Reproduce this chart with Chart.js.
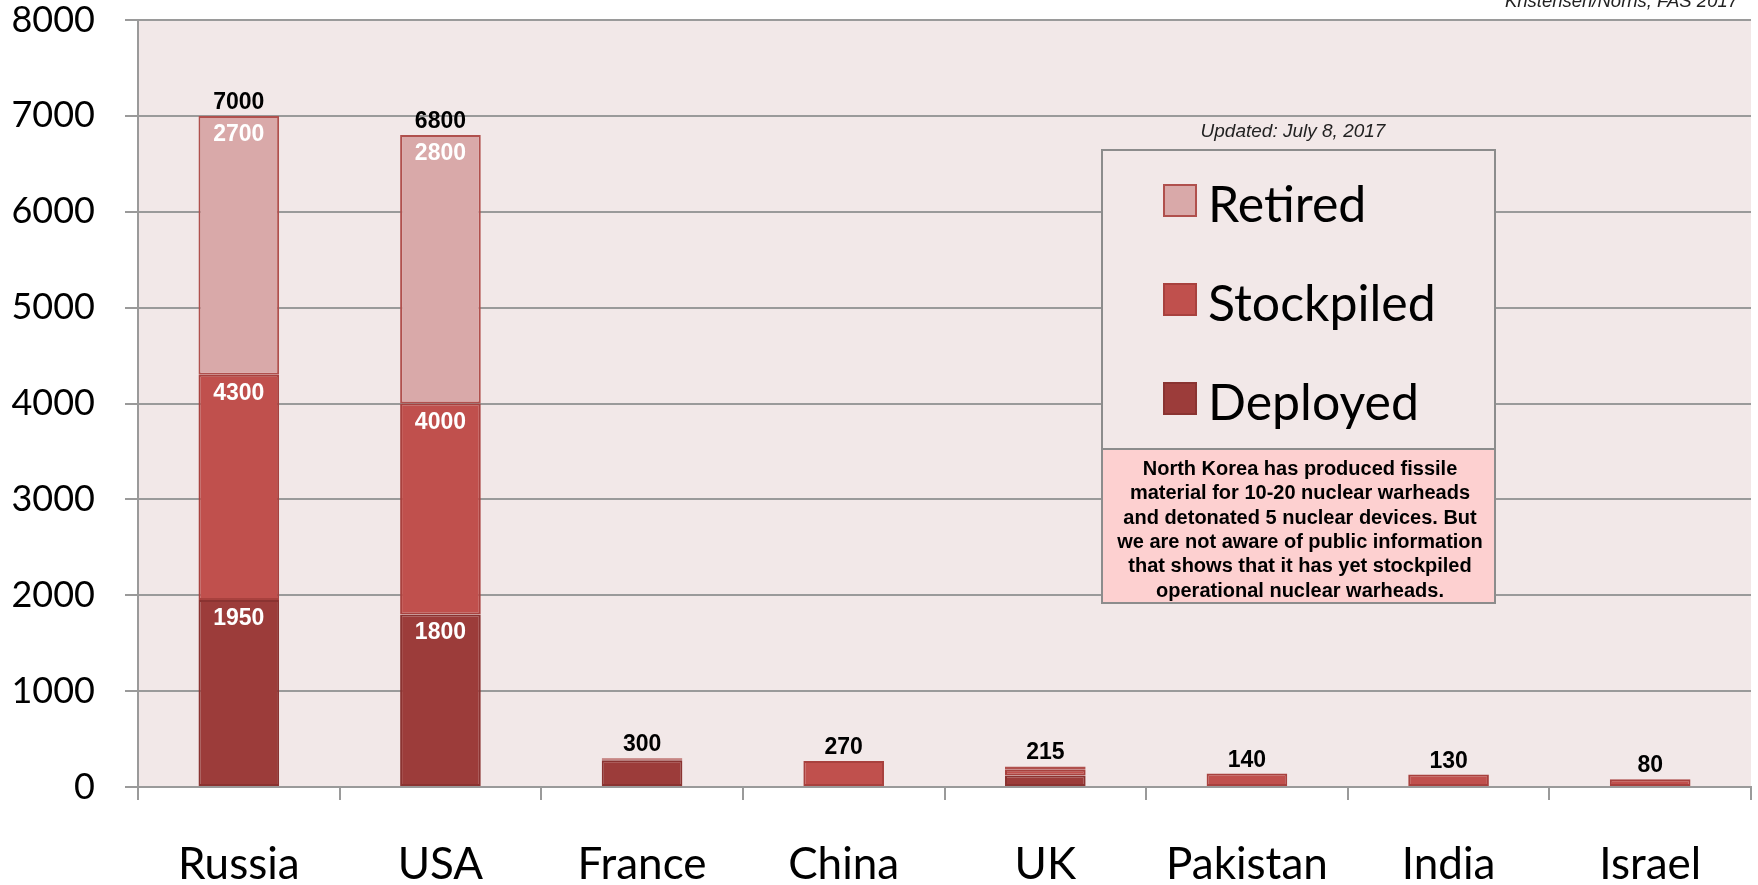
<!DOCTYPE html>
<html>
<head>
<meta charset="utf-8">
<script src="https://cdn.jsdelivr.net/npm/chart.js@4.4.1/dist/chart.umd.min.js"></script>
<style>
  body { margin: 0; background: #ffffff; }
  #wrap { width: 1758px; height: 885px; }
</style>
</head>
<body>
<div id="wrap"><canvas id="arsenales" width="1758" height="885"></canvas></div>
<script>
"use strict";
// datos (cabezas nucleares, 2017)
const countries = ["Russia", "USA", "France", "China", "UK", "Pakistan", "India", "Israel"];
const deployed = [1950, 1800, 280, 0, 120, 0, 0, 0];
const stockpiled = [2350, 2200, 10, 270, 60, 140, 130, 80];
const retired = [2700, 2800, 10, 0, 35, 0, 0, 0];
const yTicks = [0, 1000, 2000, 3000, 4000, 5000, 6000, 7000, 8000];
const insideLabelCountries = ["Russia", "USA"];

const seriesNames = ["Deployed", "Stockpiled", "Retired"];
const seriesColors = ["#9c3c3a", "#c0504d", "#d9a9a9"];
const seriesBorders = ["#8a3331", "#a8413e", "#b0504d"];

const noteLines = [
    "North Korea has produced fissile",
    "material for 10-20 nuclear warheads",
    "and detonated 5 nuclear devices. But",
    "we are not aware of public information",
    "that shows that it has yet stockpiled",
    "operational nuclear warheads.",
];

const ctx = document.querySelector("#arsenales");

const fondoPlugin = {
    id: "fondo",
    beforeDraw(chart) {
        const { ctx, chartArea } = chart;
        ctx.save();
        ctx.fillStyle = "#f2e8e8";
        ctx.fillRect(chartArea.left, chartArea.top, chartArea.right - chartArea.left, chartArea.bottom - chartArea.top);
        ctx.restore();
    },
};

const etiquetasPlugin = {
    id: "etiquetas",
    afterDatasetsDraw(chart) {
        const { ctx } = chart;
        const y = chart.scales.y;
        ctx.save();
        ctx.textAlign = "center";
        ctx.textBaseline = "alphabetic";
        ctx.font = "bold 23px 'Liberation Sans', Arial, sans-serif";
        countries.forEach((pais, i) => {
            const x = chart.getDatasetMeta(0).data[i].x;
            const total = deployed[i] + stockpiled[i] + retired[i];
            ctx.fillStyle = "#000000";
            ctx.fillText(String(total), x, y.getPixelForValue(total) - 7);
            if (insideLabelCountries.includes(pais)) {
                // desplegadas, arsenal total (desplegadas + reserva), retiradas
                const stock = deployed[i] + stockpiled[i];
                ctx.fillStyle = "#ffffff";
                ctx.fillText(String(deployed[i]), x, y.getPixelForValue(deployed[i]) + 25);
                ctx.fillText(String(stock), x, y.getPixelForValue(stock) + 25);
                ctx.fillText(String(retired[i]), x, y.getPixelForValue(total) + 25);
            }
        });
        ctx.restore();
    },
};

const leyendaPlugin = {
    id: "leyenda",
    afterDraw(chart) {
        const { ctx } = chart;
        ctx.save();
        // cita arriba a la derecha
        ctx.font = "italic 18.5px 'Liberation Sans', Arial, sans-serif";
        ctx.fillStyle = "#222222";
        ctx.textAlign = "right";
        ctx.textBaseline = "alphabetic";
        ctx.fillText("Kristensen/Norris, FAS 2017", 1738, 7);

        ctx.textAlign = "center";
        ctx.font = "italic 19px 'Liberation Sans', Arial, sans-serif";
        ctx.fillText("Updated: July 8, 2017", 1293, 137);

        // caja de leyenda
        ctx.fillStyle = "#f2e8e8";
        ctx.fillRect(1102, 150, 393, 299);
        ctx.strokeStyle = "#8c8c8c";
        ctx.lineWidth = 2;
        ctx.strokeRect(1102, 150, 393, 299);

        const orden = [2, 1, 0];
        orden.forEach((s, k) => {
            const top = 185 + k * 99;
            ctx.fillStyle = seriesColors[s];
            ctx.fillRect(1164, top, 32, 31);
            ctx.strokeStyle = seriesBorders[s];
            ctx.lineWidth = 2;
            ctx.strokeRect(1164, top, 32, 31);
            ctx.fillStyle = "#000000";
            ctx.textAlign = "left";
            ctx.font = "50px Lato, 'Open Sans', sans-serif";
            ctx.fillText(seriesNames[s], 1208, top + 37);
        });

        // nota sobre Corea del Norte
        ctx.fillStyle = "#fdd0d0";
        ctx.fillRect(1102, 449, 393, 154);
        ctx.strokeStyle = "#8c8c8c";
        ctx.lineWidth = 2;
        ctx.strokeRect(1102, 449, 393, 154);
        ctx.fillStyle = "#000000";
        ctx.textAlign = "center";
        ctx.font = "bold 20px 'Liberation Sans', Arial, sans-serif";
        noteLines.forEach((linea, k) => {
            ctx.fillText(linea, 1300, 475 + k * 24.3);
        });
        ctx.restore();
    },
};

const datasets = [deployed, stockpiled, retired].map((serie, s) => ({
    label: seriesNames[s],
    data: serie,
    backgroundColor: seriesColors[s],
    borderColor: seriesBorders[s],
    borderWidth: 2,
    borderSkipped: false,
    barPercentage: 0.4,
    categoryPercentage: 1,
}));

new Chart(ctx, {
    type: "bar",
    data: { labels: countries, datasets: datasets },
    options: {
        responsive: false,
        animation: false,
        layout: { padding: { top: 20, right: 7, left: 0, bottom: 0 } },
        plugins: {
            legend: { display: false },
            tooltip: { enabled: false },
        },
        scales: {
            x: {
                stacked: true,
                afterFit: (scale) => {
                    scale.height = 98;
                    scale.paddingLeft = 0;
                    scale.paddingRight = 0;
                },
                grid: {
                    offset: true,
                    drawOnChartArea: false,
                    drawTicks: true,
                    tickLength: 13,
                    color: "#9a9a9a",
                    lineWidth: 2,
                },
                border: { display: true, color: "#9a9a9a", width: 2 },
                ticks: {
                    color: "#000000",
                    padding: 38,
                    font: { family: "Lato, 'Open Sans', sans-serif", size: 44 },
                },
            },
            y: {
                stacked: true,
                min: 0,
                max: 8000,
                afterFit: (scale) => {
                    scale.width = 138;
                    scale.paddingTop = 0;
                    scale.paddingBottom = 0;
                },
                afterBuildTicks: (scale) => {
                    scale.ticks = yTicks.map((v) => ({ value: v }));
                },
                grid: {
                    color: "#9a9a9a",
                    lineWidth: 2,
                    tickLength: 13,
                },
                border: { display: true, color: "#9a9a9a", width: 2 },
                ticks: {
                    color: "#000000",
                    padding: 30,
                    callback: (value) => String(value),
                    font: { family: "Lato, 'Open Sans', sans-serif", size: 36 },
                },
            },
        },
    },
    plugins: [fondoPlugin, etiquetasPlugin, leyendaPlugin],
});
</script>
</body>
</html>
